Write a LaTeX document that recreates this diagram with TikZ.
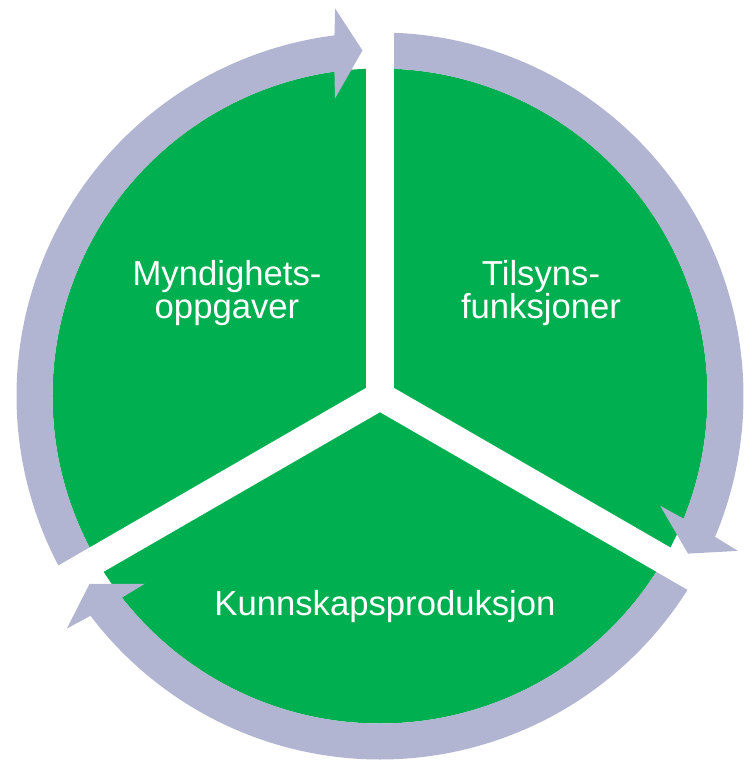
\documentclass[tikz,border=0pt]{standalone}
\usepackage{fontspec}
\setmainfont{Liberation Sans}
\usepackage{tikz}
\usetikzlibrary{positioning}
\definecolor{ringblue}{RGB}{177,181,210}
\definecolor{sectorgreen}{RGB}{0,176,80}
\tikzset{gapline/.style={white, line width=21pt, line cap=round}}
\tikzset{sectortext/.style={text=white, font=\fontsize{26}{25}\selectfont, align=center}}

\begin{document}
\begin{tikzpicture}[x=0.75pt, y=0.75pt]
  \useasboundingbox (-380, -368) rectangle (364, 396); %
  \coordinate (hub) at (0, 0); %
  \fill[sectorgreen] (hub) circle[radius=327.5]; %
  % ring pieces, each ending in an arrow head before the next gap
  \foreach \s in {210, 90, -30} {%
    \pgfmathsetmacro{\e}{\s-120}%
    \pgfmathsetmacro{\bo}{\e+6.6}%
    \pgfmathsetmacro{\bi}{\e+8.6}%
    \pgfmathsetmacro{\ei}{\e+8}%
    \pgfmathsetmacro{\tp}{\e+2.9}%
    \fill[ringblue] (\s:363.5) arc[start angle=\s, end angle=\e+7.2, radius=363.5]
      -- (\bo:390) -- (\tp:346) -- (\bi:301) -- (\ei:327.5)
      arc[start angle=\ei, end angle=\s, radius=327.5] -- cycle; %
  }
  \foreach \a in {90, 210, 330}
    \draw[gapline] (hub) -- (\a:420); %
  \node[sectortext] (myndighet) at (-153, 103) {Myndighets-\\oppgaver}; %
  \node[sectortext] (tilsyn) at (161, 103) {Tilsyns-\\funksjoner}; %
  \node[sectortext, anchor=base] (kunnskap) at (5, -219) {Kunnskapsproduksjon}; %
\end{tikzpicture}
\end{document}
